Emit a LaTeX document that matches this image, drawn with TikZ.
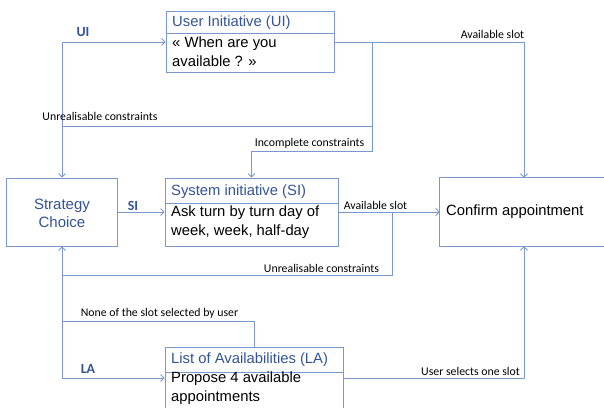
\documentclass[tikz,border=0pt]{standalone}
\usepackage{fontspec}
\setmainfont{Liberation Sans}
\newfontfamily\lblfont{Carlito}
\usetikzlibrary{arrows.meta}
\definecolor{lineblue}{RGB}{122,152,206}
\definecolor{titleblue}{RGB}{52,84,150}
\begin{document}
\begin{tikzpicture}[x=1pt,y=-1pt,
  box/.style={draw=lineblue, line width=0.8pt, rectangle, inner sep=0pt},
  conn/.style={draw=lineblue, line width=0.8pt},
  arr/.style={conn, -{Straight Barb[length=3.5pt,width=7pt]}},
  ttl/.style={text=titleblue, font=\fontsize{14.8}{18}\selectfont, anchor=west, inner sep=0pt},
  body/.style={text=black, font=\fontsize{14.8}{19}\selectfont, anchor=west, inner sep=0pt, align=left},
  lbl/.style={font=\lblfont\fontsize{11.8}{13}\selectfont, inner sep=0pt},
  key/.style={font=\lblfont\bfseries\fontsize{14}{15}\selectfont, text=titleblue, inner sep=0pt}]
\useasboundingbox (0,0) rectangle (604,407);
\clip (0,0) rectangle (604,407);
\fill[white] (0,0) rectangle (604,407);

% boxes
\node[box, minimum width=111pt, minimum height=68pt] (strat) at (62,212) {};
\node[text=titleblue, font=\fontsize{15}{18}\selectfont, align=center, inner sep=0pt] (stratt) at (62,213) {Strategy\\Choice};

\node[box, minimum width=168pt, minimum height=61pt] (ui) at (250,41.5) {};
\draw[conn] (ui.west |- 0,33) -- (ui.east |- 0,33);
\node[ttl] (uit) at (172,23) {User Initiative (UI)};
\node[body] (uib) at (172,51.5) {« When are you\\available ? »};

\node[box, minimum width=173pt, minimum height=68pt] (si) at (251.5,212) {};
\draw[conn] (si.west |- 0,203) -- (si.east |- 0,203);
\node[ttl] (sit) at (171,192) {System initiative (SI)};
\node[body] (sib) at (171,222.5) {Ask turn by turn day of\\week, week, half-day};

\node[box, minimum width=178pt, minimum height=80pt] (la) at (254,387) {};
\draw[conn] (la.west |- 0,372) -- (la.east |- 0,372);
\node[ttl] (lat) at (171,360) {List of Availabilities (LA)};
\node[body] (lab) at (171,388) {Propose 4 available\\appointments};

\node[rectangle, inner sep=0pt, minimum width=240pt, minimum height=68pt] (conf) at (560,212) {};
\draw[conn] (conf.north east) -- (conf.north west) -- (conf.south west) -- (conf.south east);
\node[body] (conft) at (446,212) {Confirm appointment};

% junctions
\coordinate (jUI) at (62,42);
\coordinate (jA) at (524,42);
\coordinate (jB) at (372,42);
\coordinate (jU1) at (372,126);
\coordinate (jU2) at (62,126);
\coordinate (jB2) at (372,151);
\coordinate (jC) at (251.5,151);
\coordinate (jD) at (392,212);
\coordinate (jD2) at (392,275);
\coordinate (jD3) at (62,275);
\coordinate (jN1) at (254,321);
\coordinate (jN2) at (62,321);
\coordinate (jL) at (62,378);
\coordinate (jS) at (524,378);

% connectors
\draw[arr] (jUI) -- (ui.west |- jUI);
\draw[arr] (jUI) -- (strat.north);
\draw[arr] (strat.east) -- (si.west);
\draw[arr] (ui.east |- jA) -- (jA) -- (jA |- conf.north);
\draw[conn] (jB) -- (jU1) -- (jU2);
\draw[arr] (jU1) -- (jB2) -- (jC) -- (si.north);
\draw[arr] (si.east) -- (conf.west);
\draw[arr] (jD) -- (jD2) -- (jD3) -- (strat.south);
\draw[conn] (la.north -| jN1) -- (jN1) -- (jN2);
\draw[conn] (jD3) -- (jL);
\draw[arr] (jL) -- (la.west |- jL);
\draw[arr] (la.east |- jS) -- (jS) -- (jS |- conf.south);

% labels
\node[key] (kUI) at (83,32) {UI};
\node[key] (kSI) at (133,206) {SI};
\node[key] (kLA) at (88,369) {LA};
\node[lbl] (l1) at (100,116) {Unrealisable constraints};
\node[lbl] (l2) at (309.5,143) {Incomplete constraints};
\node[lbl] (l3) at (492.5,34) {Available slot};
\node[lbl] (l4) at (375.5,205) {Available slot};
\node[lbl] (l5) at (321.5,268) {Unrealisable constraints};
\node[lbl] (l6) at (159.5,313) {None of the slot selected by user};
\node[lbl] (l7) at (470.5,371) {User selects one slot};
\end{tikzpicture}
\end{document}
